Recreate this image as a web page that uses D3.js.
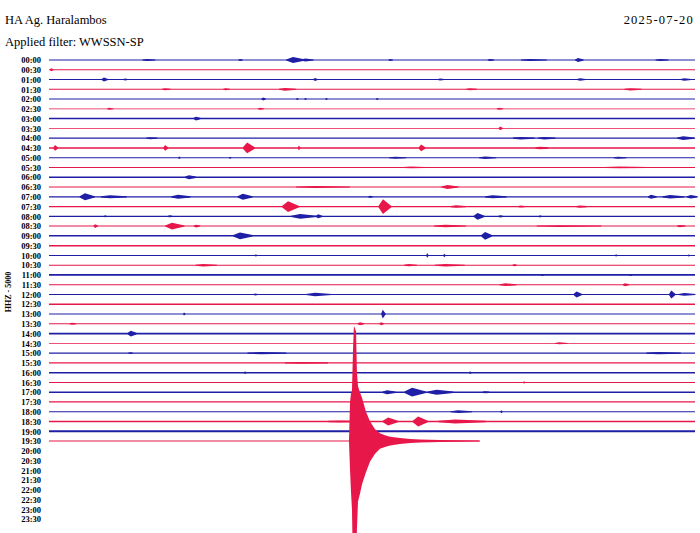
<!DOCTYPE html>
<html><head><meta charset="utf-8">
<script src="https://cdn.jsdelivr.net/npm/d3@7"></script>
<style>
html,body{margin:0;padding:0;background:#fff;}
svg{display:block;}
text{font-family:"Liberation Serif","DejaVu Serif",serif;fill:#000;}
</style></head>
<body>
<svg id="chart" width="700" height="533"></svg>
<script>
// ---------- data ----------
const stationTitle = "HA Ag. Haralambos";
const filterTitle = "Applied filter: WWSSN-SP";
const dateTitle = "2025-07-20";
const channelLabel = "HHZ - 5000";

const timeLabels = ["00:00","00:30","01:00","01:30","02:00","02:30","03:00","03:30","04:00","04:30",
  "05:00","05:30","06:00","06:30","07:00","07:30","08:00","08:30","09:00","09:30",
  "10:00","10:30","11:00","11:30","12:00","12:30","13:00","13:30","14:00","14:30",
  "15:00","15:30","16:00","16:30","17:00","17:30","18:00","18:30","19:00","19:30",
  "20:00","20:30","21:00","21:30","22:00","22:30","23:00","23:30"];

// traces with data (00:00 .. 19:30)
const traceStarts = timeLabels.slice(0, 40);
// background noise half-amplitude per trace
const traceNoise = [0.5,0.45,0.5,0.5,0.5,0.45,0.75,0.45,0.65,0.7,
  0.5,0.5,0.75,0.55,0.6,0.6,0.65,0.5,0.75,0.75,
  0.5,0.5,0.85,0.5,0.6,0.75,0.5,0.5,0.85,0.45,
  0.6,0.55,0.75,0.5,0.75,0.65,0.6,0.65,0.9,0.45];
// minutes of data in the last trace
const lastTraceEnd = 20.0;

// events per trace: [minute, half-amplitude, duration (min)]
const traceEvents = [
  [[4.55,1,0.6],[8.87,1,0.2],[11.33,3,0.9],[11.9,1.5,0.6],[15.84,1,0.2],[20.48,1,0.3],[22.34,1.1,1.2],[24.57,2,0.4],[28.38,1,0.6]],
  [[0.1,1.5,0.15]],
  [[2.55,2,0.3],[3.53,1,0.2],[12.35,1.5,0.2],[18.16,1,0.3],[24.66,1.2,0.4],[29.5,1.2,0.5]],
  [[5.39,1,0.4],[8.2,1,0.3],[10.96,1.4,0.8],[19.55,1,0.5],[27.0,1.1,0.8]],
  [[9.94,1.5,0.2],[11.52,1,0.1],[11.9,1,0.1],[12.87,1,0.1],[15.23,1,0.1]],
  [[2.8,1,0.3],[9.8,1,0.3],[20.9,1,0.3]],
  [[6.83,2,0.3]],
  [[20.95,2,0.2]],
  [[4.7,1,0.5],[21.9,1.3,1.0],[23.0,1.3,0.8],[29.45,2,0.8]],
  [[0.28,3,0.2],[5.39,3,0.2],[9.2,5.5,0.55],[11.6,2.5,0.1],[17.28,3.5,0.3],[22.8,1.3,0.6]],
  [[6.04,1.2,0.1],[8.4,1,0.1],[16.07,1,0.8],[20.25,1.3,0.8],[26.43,1.1,0.6]],
  [[16.8,0.9,1.0],[26.5,0.9,2.0]],
  [[6.5,2,0.5]],
  [[12.35,1.0,2.5],[18.5,2,0.8]],
  [[1.67,3.5,0.7],[2.83,1.5,1.2],[5.99,2,0.9],[9.0,3,0.7],[14.9,1,0.2],[20.6,1.5,1.0],[27.96,2,0.4],[28.84,1.8,1.0],[29.8,1.8,0.5]],
  [[11.1,5.5,0.8],[15.51,7.5,0.6],[18.9,1.3,0.7],[21.9,1,0.3],[24.66,1.1,0.5]],
  [[2.6,1,0.1],[5.6,1,0.2],[11.66,2.5,1.2],[12.5,2,0.3],[19.9,3.5,0.5],[20.95,1.2,0.2],[22.8,1.2,0.1]],
  [[2.14,2,0.2],[5.71,3.5,0.9],[6.83,1.5,0.3],[18.4,1.3,1.5],[23.7,0.9,3.0],[29.3,1.2,0.4]],
  [[8.87,3.5,0.9],[20.25,4,0.5]],
  [],
  [[9.6,1.2,0.1],[17.56,2.5,0.1],[18.35,1.8,0.1],[26.33,1.2,0.1],[29.7,1,0.1]],
  [[7.15,1.3,1.0],[16.7,1.1,0.6],[18.4,1.3,1.4],[21.6,1.2,0.2]],
  [[22.9,1,0.1],[27.0,1,0.1]],
  [[21.2,1.4,0.8],[26.75,1.5,0.3]],
  [[9.57,1,0.2],[12.35,1.8,1.2],[24.5,3,0.4],[28.9,4,0.3],[29.5,1.4,0.8]],
  [],
  [[6.27,1.5,0.1],[15.5,4.5,0.2]],
  [[1.07,1,0.3],[14.44,1.5,0.3],[15.42,1.5,0.2]],
  [[3.8,3,0.4]],
  [[23.7,1,0.6]],
  [[3.76,1,0.2],[9.85,1.1,1.8],[28.3,1.1,1.6]],
  [[11.66,0.8,2.0]],
  [[9.1,1.2,0.1],[19.55,1.2,0.1]],
  [[22.06,1.2,0.1]],
  [[15.7,2,0.6],[16.86,4.5,1.0],[18.0,2.5,1.2],[20.25,1,0.3]],
  [],
  [[19.0,1.4,1.0],[21.0,1.5,0.1]],
  [[13.5,1.1,1.5],[15.75,4,0.7],[17.14,5,0.7],[18.86,2.0,2.2]],
  [],
  []
];

// large earthquake on the 19:30 trace: [minute, upward amp, downward amp]
const quakeMinutes = [13.93,13.98,14.02,14.07,14.12,14.16,14.26,14.30,14.35,14.44,14.54,14.72,14.91,15.14,15.37,15.60,15.84,16.30,16.77,17.23,18.16,19.09,20.0];
const quakeUp      = [0,40,48,52,95,118,112,70,56,50,44,30,20,12,8,6,4.5,3,2,1.5,1,0.7,0.5];
const quakeDown    = [0,30,50,70,135,135,128,90,62,54,44,32,21,13,8,6,4.5,3,2,1.5,1,0.7,0.5];

const traceColors = ["#1e1ea6", "#e8174a"];

// ---------- drawing ----------
const svg = d3.select("#chart");

const x = d3.scaleLinear().domain([0, 30]).range([49, 695]);
const y = d3.scalePoint().domain(timeLabels).range([60, 519.2]);
const amp = d3.scaleLinear().domain([0, 10]).range([0, y.step()]);

// titles
svg.append("text").attr("x", 5).attr("y", 24).style("font-size", "12.5px").text(stationTitle);
svg.append("text").attr("x", 5).attr("y", 46).style("font-size", "12.5px").text(filterTitle);
svg.append("text").attr("x", 694).attr("y", 24).attr("text-anchor", "end").style("font-size", "12.5px").style("letter-spacing", "1.2px").text(dateTitle);

// channel label
svg.append("text")
  .attr("transform", "translate(11,292) rotate(-90)")
  .attr("text-anchor", "middle")
  .style("font-size", "8px").style("font-weight", "bold")
  .text(channelLabel);

// time axis
const axisG = svg.append("g").attr("transform", "translate(45,0)")
  .call(d3.axisLeft(y).tickSize(0).tickPadding(4));
axisG.select(".domain").remove();
axisG.selectAll("text").style("font-size", "8.5px").style("font-weight", "bold")
  .style("font-family", "'Liberation Serif','DejaVu Serif',serif");

const band = d3.area().x(d => x(d[0])).y0(d => d[1]).y1(d => d[2]);

const traces = svg.append("g");
traceStarts.forEach((lab, i) => {
  const base = y(lab);
  const col = traceColors[i % 2];
  const end = i === traceStarts.length - 1 ? lastTraceEnd : 30;
  const g = traces.append("g").attr("fill", col);
  const n = amp(traceNoise[i] * 10 / y.step());
  g.append("path").attr("d", band([[0, base - n, base + n], [end, base - n, base + n]]));
  traceEvents[i].forEach(ev => {
    const [m, a, w] = ev;
    const h = amp(a);
    g.append("path").attr("d", band([
      [m - w * 0.35, base - n, base + n],
      [m, base - h, base + h],
      [m + w * 0.65, base - n, base + n]
    ]));
  });
  if (i === traceStarts.length - 1) {
    const pts = quakeMinutes.map((m, k) => [m, base - amp(quakeUp[k]), base + amp(quakeDown[k])]);
    g.append("path").attr("d", band(pts));
  }
});
</script>
</body></html>
